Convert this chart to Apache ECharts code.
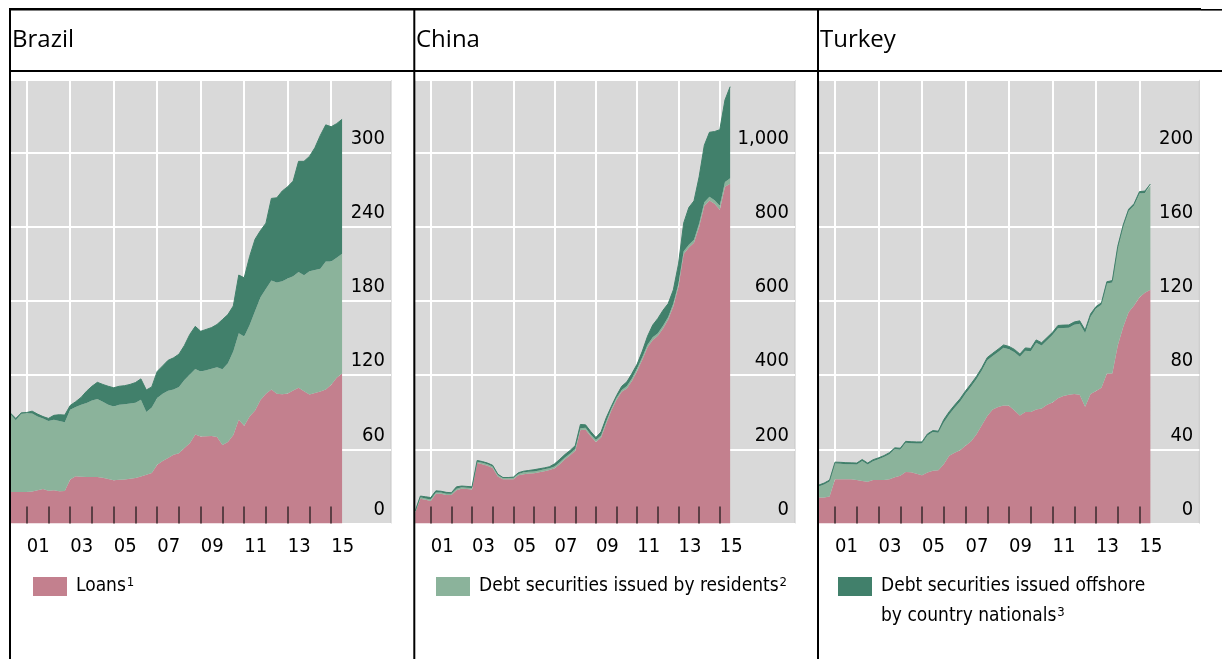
<!DOCTYPE html>
<html>
<head>
<meta charset="utf-8">
<script src="https://cdn.jsdelivr.net/npm/echarts@6/dist/echarts.min.js"></script>
<style>
  html, body { margin: 0; padding: 0; background: #fff; }
  #chart { width: 1222px; height: 659px; }
</style>
</head>
<body>
<div id="chart"></div>
<script>
const countries = ['Brazil', 'China', 'Turkey']
const seriesNames = ['Loans', 'Debt securities issued by residents', 'Debt securities issued offshore by country nationals']
const footnotes = ['1', '2', '3']

// quarterly observations, Apr 2000 .. Jul 2015 (62 quarters)
const quarters = []
for (let y = 2000; y <= 2015; y++) {
    for (const m of ['01', '04', '07', '10']) quarters.push(y + '-' + m)
}
quarters.splice(0, 1)
quarters.splice(62)

// Brazil, USD bn
const brazilLoans = [25.5, 25.5, 25.5, 25.5, 25.8, 27, 28, 26.5, 27, 26,
    26.3, 35.5, 38.2, 37.8, 37.6, 37.6, 37.6, 37, 36, 35,
    35.3, 35.6, 36.2, 36.8, 38, 39.5, 40.8, 47.5, 50.5, 53,
    55.7, 56.8, 61, 65, 72, 70.3, 70.5, 70.7, 70, 63.5,
    66, 71.6, 84, 79, 86.5, 91.5, 100, 105, 108.5, 105,
    104.5, 105.2, 107.5, 109.8, 107, 104.4, 105.5, 106.8, 108.5, 112.3,
    118, 121.4]
const brazilResidents = [62.8, 58, 63.3, 63.6, 63.2, 59.5, 57, 56.5, 57, 57,
    55.7, 56.5, 56, 58.2, 59.9, 61.9, 63.2, 61.5, 60, 59.6,
    60.7, 60.9, 60.8, 60.8, 62.2, 50.8, 53, 54, 54.5, 54.4,
    52.8, 53.7, 55, 55.5, 53, 52.7, 53.5, 54.5, 56.5, 61.2,
    63.7, 67.8, 70, 72.2, 74, 80.5, 83, 85, 88, 90,
    91.5, 93, 92.5, 93.7, 93.8, 99.6, 99.5, 99.2, 103.5, 99.7,
    97, 96.9]
const brazilOffshore = [1, 1.5, 0.7, 0.7, 1.9, 2, 1.5, 2, 3.5, 5,
    5.7, 3.5, 4.3, 6, 9.5, 11.5, 13.4, 14, 15, 15.2,
    15, 15, 15.5, 16.4, 16.8, 17.7, 16.7, 21.5, 22.5, 24.6,
    25.5, 26.5, 28, 32.5, 34.5, 32.5, 33, 33.3, 34.5, 40.3,
    39.3, 36.6, 47, 47.6, 55.5, 58, 54, 53, 66.5, 68.5,
    73, 74.3, 77, 89.5, 92.2, 93, 99, 108, 110.5, 109,
    108.5, 108.7]

// China, USD bn
const chinaLoans = [30, 67, 64, 61, 80, 80, 77, 77, 90, 94,
    93, 92, 163, 160, 156, 150, 127, 119, 119, 119,
    130, 133, 134.5, 135.5, 138, 141, 144, 149, 160, 173,
    184, 196, 252, 253, 235, 220, 232, 270, 305, 334,
    355, 364, 385, 412, 442, 475, 495, 506, 526, 550,
    586, 640, 727, 744, 757, 800, 857, 871, 862, 846,
    908, 916]
const chinaResidents = [3.5, 3.5, 3.5, 3.5, 3.5, 3.5, 3.5, 3.5, 3.5, 3.5,
    3.5, 3.5, 3.5, 3.5, 3.5, 3.5, 3.5, 3.5, 3.5, 3.5,
    3.5, 5, 5, 5, 5, 5, 5, 5, 5, 5,
    5, 5, 5, 5, 5, 5, 5, 5, 5, 5,
    5, 7, 7, 7, 7, 7, 7, 7, 7, 7,
    7, 7, 7, 8, 8, 9, 9, 10, 10, 11,
    13, 15]
const chinaOffshore = [0.5, 3.5, 4.5, 5.5, 4.5, 3.5, 3.5, 2.5, 5.5, 3.5,
    3.5, 3.5, 3.5, 3.5, 3.5, 3.5, 2.5, 1.5, 1.5, 2.5,
    3.5, 3, 3.5, 4.5, 4.5, 4, 4, 7, 8, 8,
    8, 9, 10, 8, 8, 7, 10, 10, 6, 6,
    10, 11, 13, 11, 16, 23, 33, 40, 42, 36,
    37, 53, 76, 100, 105, 126, 154, 174, 185, 205,
    221, 247]

// Turkey, USD bn
const turkeyLoans = [14, 14, 14.5, 23.8, 23.8, 23.8, 23.8, 23.5, 22.9, 22.5,
    23.4, 23.4, 23.4, 23.8, 25, 25.7, 27.8, 27.6, 26.8, 26,
    27.5, 28.5, 28.7, 32, 36.6, 38.2, 39.5, 42, 44.2, 48,
    53, 58, 61.5, 62.8, 63.7, 63.5, 61, 58.3, 60.2, 60.2,
    61.5, 62, 64, 65.3, 67.5, 68.8, 69.5, 69.9, 69.5, 63,
    69.8, 71.5, 73.2, 80.9, 80.9, 96, 106, 114, 117.6, 122,
    124.5, 126.1]
const turkeyResidents = [5.9, 7, 8.1, 8.5, 8.4, 8.2, 8.1, 8.3, 10.8, 9.3,
    10.2, 11.2, 12.4, 13.6, 15, 14.1, 15.7, 15.7, 16.4, 17.2,
    20, 20.8, 20.3, 22.5, 22.2, 24.2, 26.3, 28, 29.6, 29.8,
    29.5, 30, 28.8, 29.7, 31.1, 30.5, 31.4, 31.6, 33, 32.7,
    36, 34, 34.8, 36.3, 37.8, 36.7, 36.1, 37.3, 38.3, 39.8,
    41.7, 44.5, 44.8, 48.5, 49.1, 52.5, 54, 54.5, 53.9, 56,
    53.8, 56]
const turkeyOffshore = [0.8, 0.8, 0.8, 0.8, 0.8, 0.8, 0.8, 0.8, 0.8, 0.8,
    0.8, 0.8, 0.8, 0.8, 0.8, 0.8, 0.8, 0.8, 0.8, 0.8,
    0.8, 0.8, 0.8, 1.5, 1.5, 1.5, 1.5, 1.5, 1.5, 1.5,
    1.5, 1.5, 1.5, 1.5, 1.5, 1.5, 1.5, 1.5, 1.5, 1.5,
    1.5, 1.5, 1.5, 1.5, 1.5, 1.5, 1.5, 1.5, 1.5, 1.5,
    1.5, 1, 1, 1, 1, 1, 1, 1, 1, 1,
    1, 1]

const yMax = [358.8, 1196, 239.2]
const yStep = [60, 200, 40]

const values = [
    [brazilLoans, brazilResidents, brazilOffshore],
    [chinaLoans, chinaResidents, chinaOffshore],
    [turkeyLoans, turkeyResidents, turkeyOffshore]
]

// styling / layout
const colors = ['#C3808E', '#8BB39B', '#41806B']
const narrow = "'DejaVu Sans Condensed', 'Liberation Sans', sans-serif"
const plotTop = 80
const plotBottom = 523.5
const panels = [
    { bgLeft: 11, bgRight: 391, x2001: 26.7, ppy: 21.75, titleX: 12, legendX: 33 },
    { bgLeft: 415.3, bgRight: 795, x2001: 430.7, ppy: 20.65, titleX: 416, legendX: 436 },
    { bgLeft: 819, bgRight: 1199.3, x2001: 835, ppy: 21.75, titleX: 820, legendX: 838 }
]

const isYearStart = v => v.slice(5) === '01'
const isOddYear = v => isYearStart(v) && Number(v.slice(0, 4)) % 2 === 1

const grid = [], xAxis = [], yAxis = [], series = [], title = []

panels.forEach((p, i) => {
    // background grid: grey area, horizontal lines, right-side labels
    grid.push({
        left: p.bgLeft, top: plotTop, width: p.bgRight - p.bgLeft, height: plotBottom - plotTop,
        show: true, backgroundColor: '#D9D9D9', borderColor: '#C6C6C6', borderWidth: 1,
        outerBoundsMode: 'none'
    })
    // data grid, first to last quarter
    const left = p.x2001 - 0.75 * p.ppy
    grid.push({
        left: left, top: plotTop, width: 15.25 * p.ppy, height: plotBottom - plotTop,
        show: false, outerBoundsMode: 'none'
    })
    xAxis.push({ gridIndex: 2 * i, type: 'value', min: 0, max: 1, show: false })
    xAxis.push({
        gridIndex: 2 * i + 1, type: 'category', position: 'bottom', data: quarters, boundaryGap: false,
        z: 10,
        axisLine: { show: false },
        axisTick: { show: true, inside: true, length: 17, interval: (idx, v) => isYearStart(v),
            lineStyle: { color: '#3a2a2e', width: 1.5 } },
        axisLabel: {
            interval: (idx, v) => isOddYear(v),
            margin: 13, align: 'left', color: '#000', fontFamily: narrow, fontSize: 20,
            formatter: v => v.slice(2, 4)
        },
        splitLine: { show: false }
    })
    xAxis.push({
        gridIndex: 2 * i + 1, type: 'category', position: 'top', data: quarters, boundaryGap: false,
        axisLine: { show: false }, axisTick: { show: false }, axisLabel: { show: false },
        splitLine: { show: true, interval: (idx, v) => isOddYear(v), lineStyle: { color: '#fff', width: 2 } }
    })
    yAxis.push({
        gridIndex: 2 * i, type: 'value', position: 'right', min: 0, max: yMax[i], interval: yStep[i],
        axisLine: { show: false }, axisTick: { show: false },
        splitLine: { show: true, lineStyle: { color: '#fff', width: 2 } },
        axisLabel: {
            inside: true, margin: 6, color: '#000', fontFamily: narrow, fontSize: 20,
            verticalAlign: 'bottom', padding: [0, 0, 4, 0], showMaxLabel: false,
            formatter: v => v.toLocaleString('en-US')
        }
    })
    yAxis.push({ gridIndex: 2 * i + 1, type: 'value', min: 0, max: yMax[i], show: false })

    values[i].forEach((vals, j) => {
        series.push({
            name: seriesNames[j],
            type: 'line',
            xAxisIndex: 3 * i + 1,
            yAxisIndex: 2 * i + 1,
            stack: countries[i],
            symbol: 'none',
            showSymbol: false,
            itemStyle: { color: colors[j] },
            lineStyle: j === 2 ? { color: colors[j], width: 1 } : { width: 0 },
            areaStyle: { color: colors[j], opacity: 1 },
            data: vals
        })
    })

    title.push({
        text: countries[i], left: p.titleX, top: 28, padding: 0,
        textStyle: { fontFamily: "'Open Sans', 'Noto Sans', sans-serif", fontSize: 24, fontWeight: 'normal', color: '#000' }
    })
})

const legendText = {
    fontFamily: narrow, fontSize: 19, color: '#000',
    rich: {
        a: { fontFamily: narrow, fontSize: 19, color: '#000', lineHeight: 30, padding: [0, 0, 0, 4] },
        s: { fontFamily: narrow, fontSize: 13, color: '#000', verticalAlign: 'top', padding: [5, 0, 0, 1] },
        e: { fontSize: 19, lineHeight: 30 }
    }
}
const legendBase = {
    orient: 'vertical', padding: 0, icon: 'rect', itemWidth: 34, itemHeight: 19,
    itemStyle: { borderWidth: 0 }, textStyle: legendText, selectedMode: false
}
const legend = [
    Object.assign({}, legendBase, {
        data: [seriesNames[0]], left: panels[0].legendX, top: 576.5,
        formatter: () => '{a|Loans}{s|' + footnotes[0] + '}'
    }),
    Object.assign({}, legendBase, {
        data: [seriesNames[1]], left: panels[1].legendX, top: 576.5,
        formatter: () => '{a|Debt securities issued by residents}{s|' + footnotes[1] + '}'
    }),
    Object.assign({}, legendBase, {
        data: [seriesNames[2]], left: panels[2].legendX, top: 547,
        formatter: () => '{e| }\n{a|Debt securities issued offshore}\n{a|by country nationals}{s|' + footnotes[2] + '}'
    })
]

// panel frame lines
const black = { stroke: '#000' }
const graphic = [
    { type: 'line', z: 100, shape: { x1: 9, y1: 9.3, x2: 1201, y2: 9.3 }, style: Object.assign({ lineWidth: 2.5 }, black) },
    { type: 'line', z: 100, shape: { x1: 1201, y1: 9.8, x2: 1222, y2: 9.8 }, style: Object.assign({ lineWidth: 1.6 }, black) },
    { type: 'line', z: 100, shape: { x1: 9, y1: 71, x2: 1222, y2: 71 }, style: Object.assign({ lineWidth: 2 }, black) },
    { type: 'line', z: 100, shape: { x1: 10, y1: 8, x2: 10, y2: 659 }, style: Object.assign({ lineWidth: 2 }, black) },
    { type: 'line', z: 100, shape: { x1: 414.3, y1: 8, x2: 414.3, y2: 659 }, style: Object.assign({ lineWidth: 2 }, black) },
    { type: 'line', z: 100, shape: { x1: 818, y1: 8, x2: 818, y2: 659 }, style: Object.assign({ lineWidth: 2 }, black) }
]

const chart = echarts.init(document.getElementById('chart'))
chart.setOption({
    animation: false,
    backgroundColor: '#fff',
    title,
    legend,
    grid,
    xAxis,
    yAxis,
    series,
    graphic
})
</script>
</body>
</html>
